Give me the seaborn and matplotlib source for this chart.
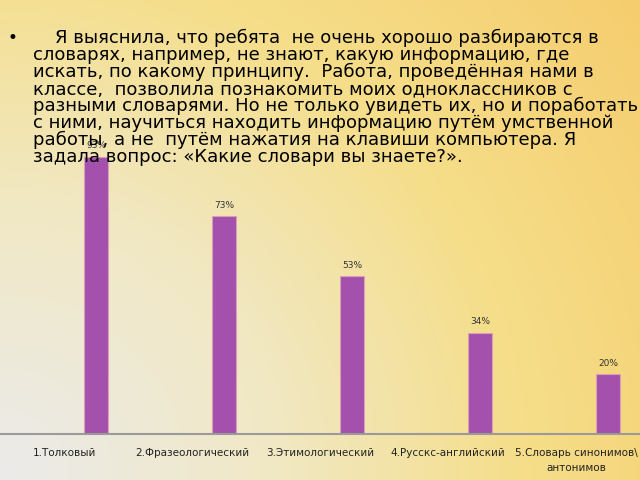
import numpy as np
import pandas as pd
import matplotlib
matplotlib.use("Agg")
import matplotlib.pyplot as plt
import seaborn as sns

# Data
categories = ["1.Толковый", "2.Фразеологический", "3.Этимологический",
              "4.Русскс-английский", "5.Словарь синонимов\\\nантонимов"]
values = [93, 73, 53, 34, 20]
value_labels = ["93%", "73%", "53%", "34%", "20%"]

text_lines = [
    "Я выяснила, что ребята  не очень хорошо разбираются в",
    "словарях, например, не знают, какую информацию, где",
    "искать, по какому принципу.  Работа, проведённая нами в",
    "классе,  позволила познакомить моих одноклассников с",
    "разными словарями. Но не только увидеть их, но и поработать",
    "с ними, научиться находить информацию путём умственной",
    "работы, а не  путём нажатия на клавиши компьютера. Я",
    "задала вопрос: «Какие словари вы знаете?».",
]

df = pd.DataFrame({"pos": np.arange(len(values)), "value": values})

sns.set_theme(style="white")
fig = plt.figure(figsize=(6.4, 4.8), dpi=100)

# gradient background: grey in bottom-left corner to orange-yellow top-right
bg = fig.add_axes([0, 0, 1, 1])
px, py = np.meshgrid(np.linspace(0, 640, 320), np.linspace(480, 0, 240))
t = np.clip(np.sqrt(px ** 2 + py ** 2) / 800, 0, 1)
stops = [0, 0.35, 0.65, 1.0]
cols = np.array([[235, 235, 235], [241, 232, 195], [245, 222, 138], [246, 205, 110]]) / 255
img = np.stack([np.interp(t, stops, cols[:, k]) for k in range(3)], axis=-1)
bg.imshow(img, aspect="auto", extent=[0, 1, 0, 1], origin="upper")
bg.axis("off")

ax = fig.add_axes([0, 0.0958, 1, 0.6208])
ax.patch.set_alpha(0)
sns.barplot(data=df, x="pos", y="value", native_scale=True, color="#A351AC",
            saturation=1, width=0.19, edgecolor="#D9A0B8", linewidth=0.8, ax=ax)
ax.set_xlim(-0.75, 4.25)
ax.set_ylim(0, 100)
for p, v, lab in zip(df["pos"], values, value_labels):
    ax.text(p, v + 2.2, lab, ha="center", va="bottom", fontsize=6.5, color="#333333")
ax.set_xticks(np.arange(len(categories)) - 0.25)
ax.set_xticklabels(categories, fontsize=7.5, color="#222222", linespacing=1.6)
ax.tick_params(axis="x", length=0, pad=10)
ax.set_yticks([])
ax.set_xlabel("")
ax.set_ylabel("")
for s in ["left", "right", "top"]:
    ax.spines[s].set_visible(False)
ax.spines["bottom"].set_color("#9a9a9a")
ax.spines["bottom"].set_linewidth(1.5)

# slide text
fig.text(8 / 640, 1 - 38 / 480, "•", fontsize=12, color="black", va="center",
         family="DejaVu Sans")
for i, line in enumerate(text_lines):
    x0 = 55 if i == 0 else 33
    fig.text(x0 / 640, 1 - (38 + 17 * i) / 480, line, fontsize=13, color="black",
             va="center", family="DejaVu Sans")

fig.savefig("out.png", dpi=100)
